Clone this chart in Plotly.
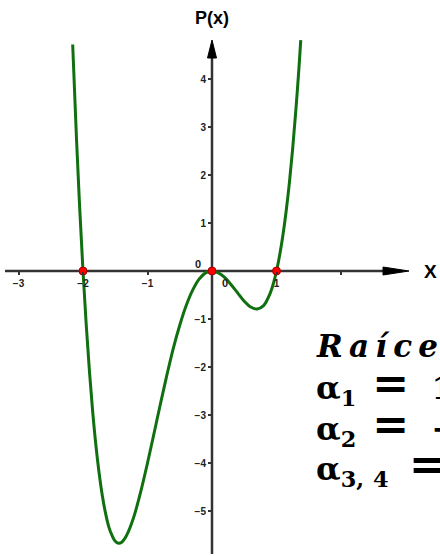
import plotly.graph_objects as go

# curve samples
x_vals = [-2.16, -2.1, -2.05, -2.0, -1.95, -1.9, -1.85, -1.8, -1.75, -1.7, -1.65, -1.6, -1.55,
          -1.5, -1.45, -1.4, -1.35, -1.3, -1.25, -1.2, -1.1, -1.0, -0.9, -0.8, -0.7, -0.6,
          -0.5, -0.4, -0.3, -0.2, -0.1, 0.0, 0.1, 0.2, 0.3, 0.4, 0.5, 0.6, 0.7, 0.8, 0.9,
          0.95, 1.0, 1.05, 1.1, 1.15, 1.2, 1.25, 1.3, 1.35, 1.376]
p_vals = [4.72, 2.73, 1.28, 0.0, -1.12, -2.09, -2.93, -3.63, -4.21, -4.68, -5.05, -5.33, -5.51,
          -5.63, -5.67, -5.65, -5.57, -5.44, -5.27, -5.07, -4.57, -4.0, -3.39, -2.77, -2.17, -1.61,
          -1.13, -0.72, -0.40, -0.17, -0.04, 0.0, -0.04, -0.14, -0.29, -0.46, -0.63, -0.75, -0.79, -0.72, -0.47,
          -0.27, 0.0, 0.34, 0.75, 1.25, 1.84, 2.54, 3.35, 4.27, 4.81]

root_x = [-2, 0, 1]
root_y = [0, 0, 0]
root_subs = ["1", "2", "3,\u2009\u20094\u2009"]
root_vals = ["1", "−2", "0"]

x_ticks = [-3, -2, -1, 1, 2]
x_tick_text = ["−3", "−2", "−1", "1", ""]
y_ticks = [-5, -4, -3, -2, -1, 1, 2, 3, 4]
y_tick_text = ["−5", "−4", "−3", "−2", "−1", "1", "2", "3", "4"]

W, H = 440, 556
X0PX, XS = 212, 64.5   # pixel of x=0, px per unit
Y0PX, YS = 271, 48     # pixel of y=0, px per unit
xr = [-X0PX / XS, (W - X0PX) / XS]
yr = [-(H - Y0PX) / YS, Y0PX / YS]

def dx(px):
    return (px - X0PX) / XS

def dy(py):
    return (Y0PX - py) / YS

AX = "#333333"
fig = go.Figure()
fig.add_trace(go.Scatter(x=x_vals, y=p_vals, mode="lines", line=dict(color="#107010", width=3, shape="spline"),
                         hoverinfo="skip", showlegend=False))
fig.add_trace(go.Scatter(x=root_x, y=root_y, mode="markers",
                         marker=dict(size=8, color="#ff0000", line=dict(color="#a00000", width=1)),
                         hoverinfo="skip", showlegend=False))

tickfont = dict(family="Liberation Sans, Arial", size=10, color="#222222")
fig.update_layout(
    width=W, height=H, margin=dict(l=0, r=0, t=0, b=0),
    paper_bgcolor="white", plot_bgcolor="white",
    xaxis=dict(range=xr, showgrid=False, zeroline=False, showline=False, anchor="free",
               position=1 - Y0PX / H, tickvals=x_ticks, ticktext=["<b>%s</b>" % t for t in x_tick_text],
               ticks="outside", ticklen=3, tickwidth=2, tickcolor=AX, tickfont=tickfont, fixedrange=True),
    yaxis=dict(range=yr, showgrid=False, zeroline=False, showline=False, anchor="free",
               position=X0PX / W, tickvals=y_ticks, ticktext=["<b>%s</b>" % t for t in y_tick_text],
               ticks="outside", ticklen=4, tickwidth=2, tickcolor=AX, tickfont=tickfont, fixedrange=True),
)

# axes lines and arrowheads
fig.add_shape(type="line", x0=dx(5), x1=dx(385), y0=0, y1=0, line=dict(color=AX, width=2.5), layer="below")
fig.add_shape(type="line", x0=0, x1=0, y0=dy(554), y1=dy(56), line=dict(color=AX, width=2.5), layer="below")
fig.add_shape(type="path", layer="above", fillcolor="black", line=dict(color="black", width=1),
              path="M %f,%f L %f,%f L %f,%f Z" % (dx(383), dy(267), dx(409), 0, dx(383), dy(275)))
fig.add_shape(type="path", layer="above", fillcolor="black", line=dict(color="black", width=1),
              path="M %f,%f L %f,%f L %f,%f Z" % (dx(207.5), dy(58), 0, dy(40), dx(216.5), dy(58)))

bold = dict(family="Liberation Sans, Arial", color="black")
fig.add_annotation(x=0, y=dy(18), text="<b>P(x)</b>", showarrow=False, font=dict(size=18, **bold))
fig.add_annotation(x=dx(430), y=dy(271), text="<b>X</b>", showarrow=False, font=dict(size=19, **bold))
fig.add_annotation(x=dx(198), y=dy(264), text="<b>0</b>", showarrow=False, font=dict(size=11, family="Liberation Sans, Arial", color="#222222"))
fig.add_annotation(x=dx(225), y=dy(283), text="<b>0</b>", showarrow=False, font=dict(size=11, family="Liberation Sans, Arial", color="#222222"))

mfont = dict(family="DejaVu Serif", color="black")
title = "\u2009".join(list("Raíces:"))
fig.add_annotation(xref="paper", yref="paper", x=314 / W, y=1 - 346 / H, xanchor="left", yanchor="middle",
                   text="<b><i>%s</i></b>" % title, showarrow=False, font=dict(size=31, **mfont))
for sub, val, ypx in zip(root_subs, root_vals, [384, 425, 465]):
    txt = "<b>α<sub>%s</sub>\u2002<span style='font-size:44px'>=</span>\u2002\u2009%s</b>" % (sub, val)
    fig.add_annotation(xref="paper", yref="paper", x=314 / W, y=1 - ypx / H, xanchor="left", yanchor="middle",
                       text=txt, showarrow=False, font=dict(size=32, **mfont))

fig.write_html("out.html", config={"displayModeBar": False},
               post_script="document.body.style.margin='0';document.body.style.overflow='hidden';")
